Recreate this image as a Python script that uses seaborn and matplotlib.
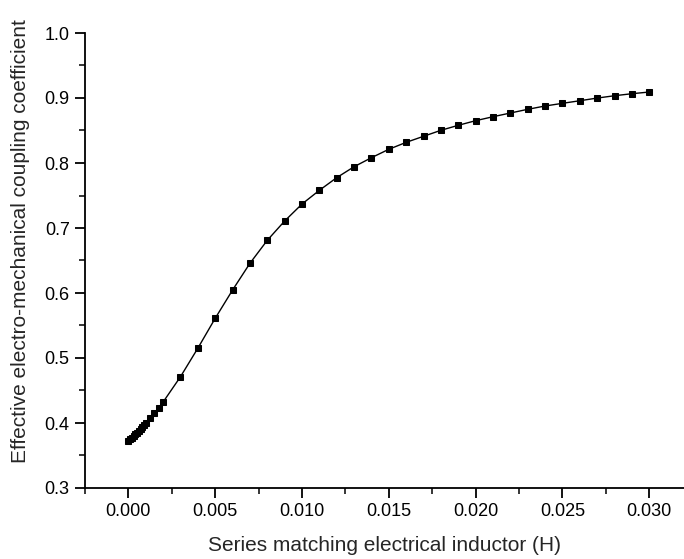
import matplotlib
matplotlib.use("Agg")
import matplotlib.pyplot as plt
import seaborn as sns
import pandas as pd
from matplotlib.ticker import MultipleLocator

# Data
inductance = [0.0000, 0.0001, 0.0002, 0.0003, 0.0004, 0.0005, 0.0006, 0.0007,
              0.0008, 0.0009, 0.0010, 0.00125, 0.0015, 0.00175, 0.0020,
              0.003, 0.004, 0.005, 0.006, 0.007, 0.008, 0.009, 0.010,
              0.011, 0.012, 0.013, 0.014, 0.015, 0.016, 0.017, 0.018,
              0.019, 0.020, 0.021, 0.022, 0.023, 0.024, 0.025, 0.026,
              0.027, 0.028, 0.029, 0.030]
coupling = [0.3723, 0.3748, 0.3774, 0.3800, 0.3826, 0.3853, 0.3880, 0.3907,
            0.3935, 0.3963, 0.3995, 0.4077, 0.4149, 0.4226, 0.4323,
            0.4712, 0.5151, 0.5611, 0.6046, 0.6457, 0.6811, 0.7108, 0.7369,
            0.7580, 0.7775, 0.7943, 0.8082, 0.8211, 0.8318, 0.8411, 0.8503,
            0.8580, 0.8651, 0.8712, 0.8769, 0.8826, 0.8877, 0.8918, 0.8958,
            0.8999, 0.9035, 0.9066, 0.9092]
x_ticks = [0.000, 0.005, 0.010, 0.015, 0.020, 0.025, 0.030]
x_tick_labels = ["0.000", "0.005", "0.010", "0.015", "0.020", "0.025", "0.030"]
y_ticks = [0.3, 0.4, 0.5, 0.6, 0.7, 0.8, 0.9, 1.0]
x_label = "Series matching electrical inductor (H)"
y_label = "Effective electro-mechanical coupling coefficient"

df = pd.DataFrame({"L": inductance, "k": coupling})

sns.set_style("ticks")
plt.rcParams["font.family"] = ["Liberation Sans", "DejaVu Sans"]

fig = plt.figure(figsize=(6.84, 5.59), dpi=100)
ax = fig.add_axes([85 / 684, (559 - 488) / 559, 1 - 85 / 684, (488 - 33) / 559])

sns.lineplot(data=df, x="L", y="k", ax=ax, color="black", linewidth=1.0,
             marker="s", markersize=5, markeredgecolor="black",
             markerfacecolor="black", sort=False)

ax.set_xlim(-0.0025, 0.0320)
ax.set_ylim(0.3, 1.0)
ax.set_xticks(x_ticks)
ax.set_xticklabels(x_tick_labels)
ax.set_yticks(y_ticks)
ax.set_yticklabels([f"{v:.1f}" for v in y_ticks])
ax.xaxis.set_minor_locator(MultipleLocator(0.0025))
ax.yaxis.set_minor_locator(MultipleLocator(0.05))

ax.tick_params(axis="both", which="major", direction="out", length=7, width=1.3,
               labelsize=13, color="black", labelcolor="black", pad=4)
ax.tick_params(axis="both", which="minor", direction="out", length=4, width=1.1,
               color="black")

for side in ["top", "right"]:
    ax.spines[side].set_visible(False)
for side in ["left", "bottom"]:
    ax.spines[side].set_linewidth(1.3)
    ax.spines[side].set_color("black")

ax.set_xlabel(x_label, fontsize=15, labelpad=11)
ax.set_ylabel(y_label, fontsize=15)
ax.yaxis.set_label_coords(-55 / 599, 0.543)

fig.savefig("out.png", dpi=100)
